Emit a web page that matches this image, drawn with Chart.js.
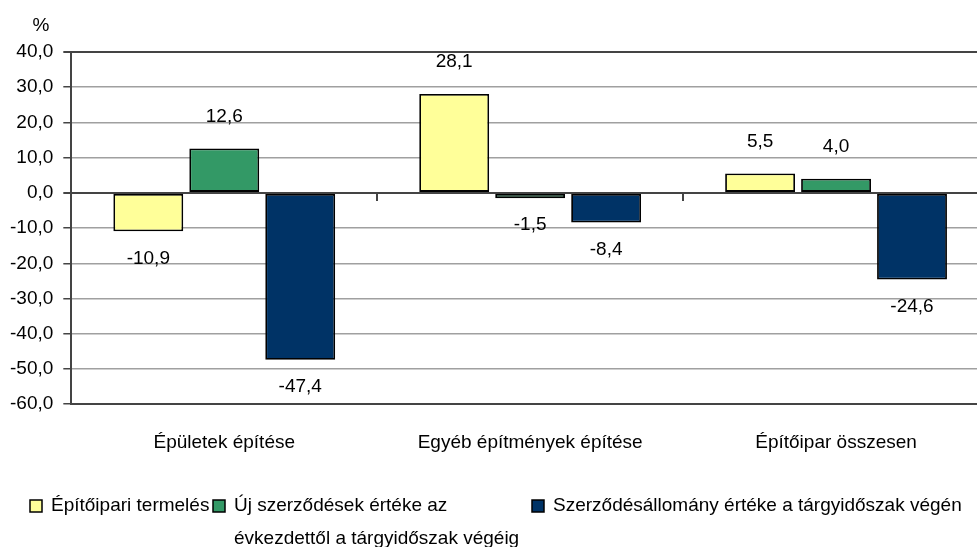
<!DOCTYPE html>
<html>
<head>
<meta charset="utf-8">
<script src="https://cdn.jsdelivr.net/npm/chart.js@4/dist/chart.umd.min.js"></script>
<style>
  html, body { margin: 0; padding: 0; background: #fff; }
  #wrap { width: 977px; height: 547px; overflow: hidden; }
</style>
</head>
<body>
<!-- canvas a bit wider than the window: the plot area runs past the right edge -->
<div id="wrap"><canvas id="chart" width="989" height="547"></canvas></div>
<script>
// categories and series
const categories = ["Épületek építése", "Egyéb építmények építése", "Építőipar összesen"];
const seriesNames = [
    "Építőipari termelés",
    "Új szerződések értéke az évkezdettől a tárgyidőszak végéig",
    "Szerződésállomány értéke a tárgyidőszak végén"
];
const termeles = [-10.9, 28.1, 5.5];
const ujSzerzodesek = [12.6, -1.5, 4.0];
const szerzodesallomany = [-47.4, -8.4, -24.6];
const yTicks = [40, 30, 20, 10, 0, -10, -20, -30, -40, -50, -60];

const seriesColors = ["#FFFF99", "#339966", "#003366"];
const FONT = "'Liberation Sans', Arial, sans-serif";
const FSIZE = 19;

const fmt = (v) => v.toFixed(1).replace(".", ",");

//Labels above / below each bar
const valueLabels = {
    id: "valueLabels",
    afterDatasetsDraw(chart) {
        const ctx = chart.ctx;
        ctx.save();
        ctx.font = FSIZE + "px " + FONT;
        ctx.fillStyle = "#000";
        ctx.textAlign = "center";
        ctx.textBaseline = "middle";
        chart.data.datasets.forEach((ds, di) => {
            chart.getDatasetMeta(di).data.forEach((el, i) => {
                const v = ds.data[i];
                const y = v >= 0 ? el.y - 32 : el.y + 27;
                ctx.fillText(fmt(v), el.x, y);
            });
        });
        ctx.restore();
    }
};

//Small ticks on the zero line between categories, plus the % sign
const extras = {
    id: "extras",
    afterDatasetsDraw(chart) {
        const ctx = chart.ctx;
        const x = chart.scales.x, y = chart.scales.y;
        const step = x.getPixelForValue(1) - x.getPixelForValue(0);
        const y0 = y.getPixelForValue(0);
        ctx.save();
        ctx.strokeStyle = "#444";
        ctx.lineWidth = 2;
        for (let i = 1; i < categories.length; i++) {
            const px = Math.round(x.getPixelForValue(i) - step / 2);
            ctx.beginPath();
            ctx.moveTo(px, y0);
            ctx.lineTo(px, y0 + 8);
            ctx.stroke();
        }
        ctx.font = FSIZE + "px " + FONT;
        ctx.fillStyle = "#000";
        ctx.textAlign = "center";
        ctx.textBaseline = "middle";
        ctx.fillText("%", 41, 26);
        ctx.restore();
    }
};

//Legend drawn by hand because the middle entry wraps onto two lines
const wrapLegend = {
    id: "wrapLegend",
    afterDraw(chart) {
        const ctx = chart.ctx;
        const cols = [30, 213, 532];
        const widths = [175, 300, 440];
        const top = 506, lineH = 33;
        ctx.save();
        ctx.font = FSIZE + "px " + FONT;
        ctx.textBaseline = "middle";
        ctx.textAlign = "left";
        chart.data.datasets.forEach((ds, i) => {
            const bx = cols[i];
            ctx.fillStyle = ds.backgroundColor;
            ctx.fillRect(bx, top - 6, 12, 12);
            ctx.strokeStyle = "#000";
            ctx.lineWidth = 1.5;
            ctx.strokeRect(bx, top - 6, 12, 12);
            // simple word wrap
            const words = ds.label.split(" ");
            let lines = [], line = "";
            words.forEach(w => {
                const test = line ? line + " " + w : w;
                if (ctx.measureText(test).width > widths[i] && line) {
                    lines.push(line);
                    line = w;
                } else {
                    line = test;
                }
            });
            lines.push(line);
            ctx.fillStyle = "#000";
            lines.forEach((l, k) => ctx.fillText(l, bx + 21, top + k * lineH));
        });
        ctx.restore();
    }
};

const data = [termeles, ujSzerzodesek, szerzodesallomany];

new Chart(document.getElementById("chart"), {
    type: "bar",
    plugins: [valueLabels, extras, wrapLegend],
    data: {
        labels: categories,
        datasets: data.map((d, i) => ({
            label: seriesNames[i],
            data: d,
            backgroundColor: seriesColors[i],
            borderColor: "#000",
            borderWidth: 1.8,
            borderSkipped: false,
            barPercentage: 0.92,
            categoryPercentage: 0.745
        }))
    },
    options: {
        responsive: false,
        animation: false,
        devicePixelRatio: 1,
        layout: {
            padding: { left: 0, top: 52, right: 0, bottom: 66 }
        },
        plugins: {
            legend: { display: false },
            tooltip: { enabled: false }
        },
        scales: {
            x: {
                grid: { drawOnChartArea: false, drawTicks: false },
                border: { display: true, color: "#444", width: 2 },
                ticks: {
                    padding: 27,
                    color: "#000",
                    font: { size: FSIZE, family: FONT },
                    maxRotation: 0
                }
            },
            y: {
                min: -60,
                max: 40,
                afterBuildTicks: (axis) => {
                    axis.ticks = yTicks.map(v => ({ value: v }));
                },
                grid: {
                    color: (c) => (c.tick && (c.tick.value === 40 || c.tick.value === 0)) ? "#444" : "#a0a0a0",
                    lineWidth: (c) => (c.tick && (c.tick.value === 40 || c.tick.value === 0)) ? 2 : 1.5,
                    tickColor: "#444",
                    tickLength: 8
                },
                border: { display: true, color: "#444", width: 2 },
                ticks: {
                    padding: 10,
                    color: "#000",
                    font: { size: FSIZE, family: FONT },
                    callback: (v) => fmt(v)
                }
            }
        }
    }
});
</script>
</body>
</html>
